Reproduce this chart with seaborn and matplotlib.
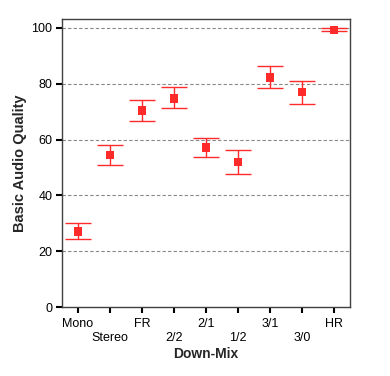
import matplotlib
matplotlib.use("Agg")
import matplotlib.pyplot as plt
import seaborn as sns
import numpy as np
import pandas as pd

categories = ["Mono", "Stereo", "FR", "2/2", "2/1", "1/2", "3/1", "3/0", "HR"]
means = [27.1, 54.4, 70.5, 74.8, 57.2, 51.9, 82.3, 77.0, 99.2]
upper = [30.0, 58.0, 74.1, 78.7, 60.5, 56.2, 86.3, 81.0, 99.9]
lower = [24.3, 50.8, 66.6, 71.2, 53.7, 47.6, 78.4, 72.7, 98.8]
yticks = [0, 20, 40, 60, 80, 100]

sns.set_style("white")
plt.rcParams['font.family'] = ['Liberation Sans', 'DejaVu Sans']

df = pd.DataFrame({"cat": categories, "mean": means, "lo": lower, "hi": upper})
df["x"] = np.arange(len(categories))

fig = plt.figure(figsize=(3.9, 3.76), dpi=100)
ax = fig.add_axes([62/390, 1 - 307/376, 288/390, 288/376])

red = "#ff2a2a"
ax.errorbar(df["x"], df["mean"],
            yerr=[df["mean"] - df["lo"], df["hi"] - df["mean"]],
            fmt="none", ecolor=red, elinewidth=1.0, capsize=9.5, capthick=1.0, zorder=3)
sns.scatterplot(data=df, x="x", y="mean", marker="s", s=38, color=red,
                edgecolor="none", ax=ax, zorder=4)

ax.set_xlim(-0.5, 8.5)
ax.set_ylim(0, 103.2)
ax.set_yticks(yticks)
ax.set_yticklabels([str(v) for v in yticks])
for v in yticks[1:]:
    ax.axhline(v, color="#888888", linestyle=(0, (3, 2)), linewidth=0.8, zorder=1)

ax.set_xticks(df["x"])
ax.set_xticklabels([c if i % 2 == 0 else "\n" + c for i, c in enumerate(categories)])

ax.tick_params(axis="both", direction="out", length=4, width=1.5, color="black",
               labelsize=9, pad=3, labelcolor="black", bottom=True, left=True)
ax.tick_params(axis="x", pad=4)
for s in ax.spines.values():
    s.set_color("#404040")
    s.set_linewidth(1.0)

ax.set_xlabel("Down-Mix", fontsize=10, fontweight="bold", labelpad=2)
ax.set_ylabel("Basic Audio Quality", fontsize=10.5, fontweight="bold", labelpad=3)

fig.savefig("out.png", dpi=100)
